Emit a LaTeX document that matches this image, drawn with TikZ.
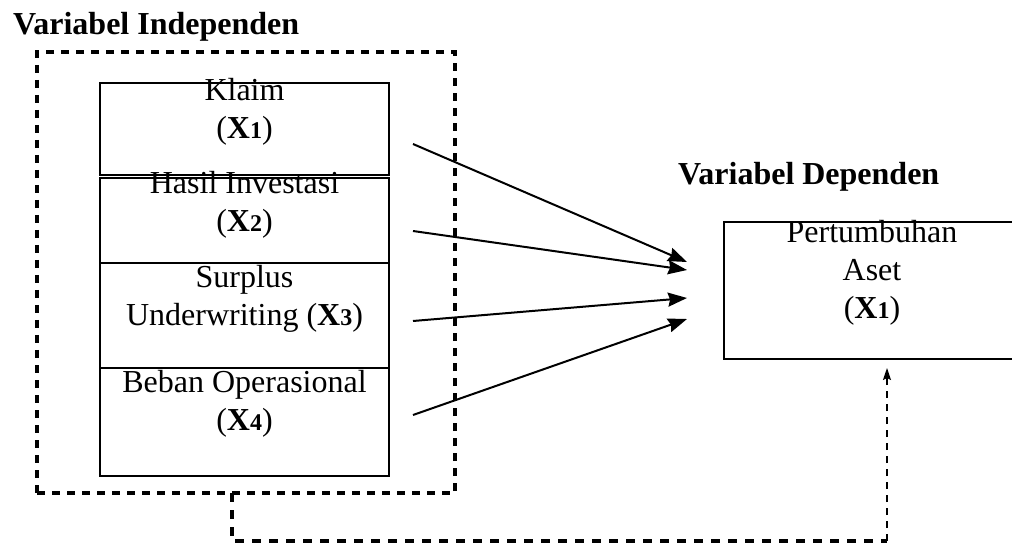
\documentclass[tikz,border=0pt]{standalone}
\usepackage{fontspec}
\setmainfont{Liberation Serif}
\usetikzlibrary{positioning, arrows.meta}
\tikzstyle{varbox} = [rectangle, draw, line width=2pt, minimum width=289pt, outer sep=0pt, inner sep=0pt]
\tikzstyle{vartext} = [inner sep=0pt, align=center, font=\fontsize{32}{38}\selectfont]
\tikzstyle{title} = [inner sep=0pt, anchor=base west, font=\fontsize{32}{38}\selectfont\bfseries]
\tikzstyle{groupbox} = [rectangle, draw, line width=4pt, dash pattern=on 8pt off 7pt, outer sep=0pt, inner sep=0pt]
\tikzstyle{arrow} = [line width=2pt, -{Stealth[length=19pt, width=14pt, inset=2pt]}]
\tikzstyle{fbline} = [line width=4.5pt, dash pattern=on 9pt off 8pt]
\tikzstyle{fbarrow} = [line width=1.6pt, dash pattern=on 7pt off 6pt, -{Stealth[length=12pt, width=8pt, inset=2pt]}]
\newcommand{\xvar}[1]{(\textbf{X}{\fontsize{24}{24}\selectfont\bfseries #1})}

\begin{document}
\begin{tikzpicture}[x=1pt, y=-1pt]
\useasboundingbox (0,0) rectangle (1012,545);
% titles
\node (indeptitle) [title] at (13,35) {Variabel Independen};
\node (deptitle) [title] at (678,185) {Variabel Dependen};
% independent variables
\node (indep) [groupbox, minimum width=418pt, minimum height=441pt] at (246,272.5) {};
\node (klaim) [varbox, minimum height=92pt] at (244.5,129) {};
\node (hasil) [varbox, minimum height=85pt, below=3pt of klaim] {};
\node (surplus) [varbox, minimum height=105pt, below=0pt of hasil] {};
\node (beban) [varbox, minimum height=108pt, below=0pt of surplus] {};
\node (klaimtxt) [vartext, below=-5pt of klaim.north] {Klaim\\\xvar{1}};
\node (hasiltxt) [vartext, below=-7pt of hasil.north] {Hasil Investasi\\\xvar{2}};
\node (surplustxt) [vartext, below=2pt of surplus.north] {Surplus\\Underwriting \xvar{3}};
\node (bebantxt) [vartext, below=2pt of beban.north] {Beban Operasional\\\xvar{4}};
% dependent variable
\node (aset) [varbox, minimum width=296pt, minimum height=137pt] at (872,290.5) {};
\node (asettxt) [vartext, below=-2pt of aset.north] {Pertumbuhan\\Aset\\\xvar{1}};
% arrows
\coordinate (s1) at (413,144);
\coordinate (s2) at (413,231);
\coordinate (s3) at (413,321);
\coordinate (s4) at (413,415);
\coordinate (e1) at (687,262);
\coordinate (e2) at (687,270);
\coordinate (e3) at (687,298);
\coordinate (e4) at (687,319);
\draw [arrow] (s1) -- (e1);
\draw [arrow] (s2) -- (e2);
\draw [arrow] (s3) -- (e3);
\draw [arrow] (s4) -- (e4);
% feedback line
\coordinate (fbl) at (232,541);
\coordinate (fbr) at (887,541);
\draw [fbline] (indep.south -| fbl) -- (fbl) -- (fbr);
\draw [fbarrow] (fbr) -- ([yshift=-9pt]fbr |- aset.south);
\end{tikzpicture}
\end{document}
